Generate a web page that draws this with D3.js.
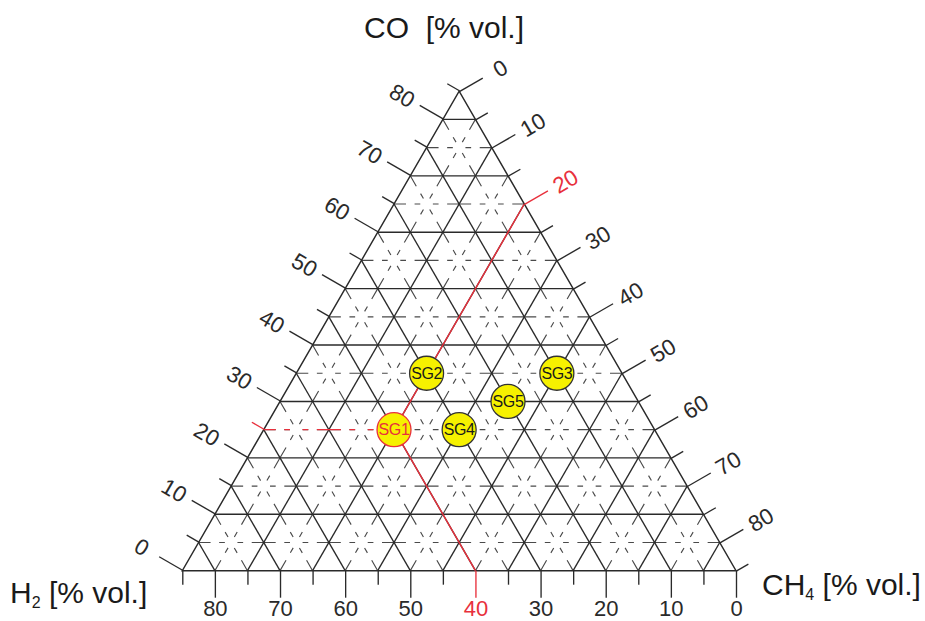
<!DOCTYPE html>
<html>
<head>
<meta charset="utf-8">
<script src="https://cdn.jsdelivr.net/npm/d3@7"></script>
<style>
  html, body { margin: 0; padding: 0; background: #fff; }
  svg { display: block; font-family: Arial, "Liberation Sans", Helvetica, sans-serif; }
</style>
</head>
<body>
<svg id="chart" width="925" height="621"></svg>
<script>
// Syngas composition: H2 / CO / CH4 ternary diagram, each scale 0–85 % vol.
const axisMax = 85;
const tickValues = d3.range(0, 90, 5);          // 0, 5, ... 85
const labelValues = d3.range(0, 90, 10);        // 0, 10, ... 80

const sampleNames = ["SG1", "SG2", "SG3", "SG4", "SG5"];
const sampleH2    = [40, 30, 10, 30, 20];
const sampleCO    = [25, 35, 35, 25, 30];
const sampleCH4   = [20, 20, 40, 30, 35];
const highlighted = "SG1";

// ---- layout -------------------------------------------------------------
const svg = d3.select("#chart");
const side = 553.7;
const origin = [182.3, 570.7];               // H2 corner (bottom-left)
const red = "#e8303c";
const lineColor = "#2a2a2a";
const dashColor = "#4a4a4a";
const majorLen = 27, minorLen = 14;
const labelDist = 47;

// cartesian scales: x carries CH4 + CO/2, y carries CO
const x = d3.scaleLinear().domain([0, axisMax]).range([origin[0], origin[0] + side]);
const y = d3.scaleLinear().domain([0, axisMax]).range([origin[1], origin[1] - side * Math.sqrt(3) / 2]);
const project = (h2, co, ch4) => [x(ch4 + co / 2), y(co)];

const L = project(axisMax, 0, 0), R = project(0, 0, axisMax), T = project(0, axisMax, 0);

// dash pattern repeats every 10 % so the gaps sit where three 5 % lines meet
const unit = (x(10) - x(0));
const dashBase = [12, 8.6, 5.7, 12.6, 5.7, 8.6, 12, 0];
const dashSum = d3.sum(dashBase);
const dashArray = dashBase.map(d => (d * unit / dashSum).toFixed(2)).join(",");

// ---- grid -----------------------------------------------------------------
const gridValues = d3.range(5, axisMax, 5);
const gridLines = [];
gridValues.forEach(v => {
  const major = v % 10 === 0;
  gridLines.push({ major, a: project(axisMax - v, v, 0), b: project(0, v, axisMax - v) }); // CO = v
  gridLines.push({ major, a: project(v, axisMax - v, 0), b: project(v, 0, axisMax - v) }); // H2 = v
  gridLines.push({ major, a: project(0, axisMax - v, v), b: project(axisMax - v, 0, v) }); // CH4 = v
});

const grid = svg.append("g");
grid.selectAll("line.minor")
  .data(gridLines.filter(d => !d.major))
  .join("line")
  .attr("class", "minor")
  .attr("x1", d => d.a[0]).attr("y1", d => d.a[1])
  .attr("x2", d => d.b[0]).attr("y2", d => d.b[1])
  .attr("stroke", dashColor)
  .attr("stroke-width", 1.15)
  .attr("stroke-dasharray", dashArray);

grid.selectAll("line.major")
  .data(gridLines.filter(d => d.major))
  .join("line")
  .attr("class", "major")
  .attr("x1", d => d.a[0]).attr("y1", d => d.a[1])
  .attr("x2", d => d.b[0]).attr("y2", d => d.b[1])
  .attr("stroke", lineColor)
  .attr("stroke-width", 1.35);

svg.append("path")
  .attr("d", d3.line()([L, R, T]) + "Z")
  .attr("fill", "none")
  .attr("stroke", lineColor)
  .attr("stroke-width", 1.45);

// ---- axes -----------------------------------------------------------------
const ref = {
  H2: sampleH2[sampleNames.indexOf(highlighted)],
  CO: sampleCO[sampleNames.indexOf(highlighted)],
  CH4: sampleCH4[sampleNames.indexOf(highlighted)]
};

const edgeScale = d3.scaleLinear().domain([0, axisMax]).range([0, side]);
const h2Scale = d3.scaleLinear().domain([axisMax, 0]).range([0, side]);
const fmt = d => labelValues.includes(d) ? d : "";

function finishAxis(g, sign, highlight) {
  g.attr("font-family", null).attr("font-size", 22.5).attr("color", lineColor);
  g.select(".domain").remove();
  g.selectAll(".tick line")
    .attr("y2", d => sign * (d % 10 === 0 ? majorLen : minorLen))
    .attr("stroke-width", 1.35);
  g.selectAll(".tick").filter(d => d === highlight).attr("color", red);
}

// bottom: H2
svg.append("g")
  .attr("transform", `translate(${L[0]},${L[1]})`)
  .call(d3.axisBottom(h2Scale).tickValues(tickValues).tickSize(majorLen).tickFormat(fmt))
  .call(g => finishAxis(g, 1, ref.H2))
  .call(g => g.selectAll(".tick text").attr("dy", null).attr("y", 45.5).attr("font-size", 22));

// left: CO
svg.append("g")
  .attr("transform", `translate(${L[0]},${L[1]}) rotate(-60)`)
  .call(d3.axisTop(edgeScale).tickValues(tickValues).tickSize(majorLen).tickFormat(fmt))
  .call(g => finishAxis(g, -1, ref.CO))
  .call(g => g.selectAll(".tick text")
    .attr("y", null).attr("dy", "0.36em")
    .attr("text-anchor", "middle")
    .attr("fill", lineColor)
    .attr("transform", `translate(0,${-labelDist}) rotate(90)`));

// right: CH4
svg.append("g")
  .attr("transform", `translate(${T[0]},${T[1]}) rotate(60)`)
  .call(d3.axisTop(edgeScale).tickValues(tickValues).tickSize(majorLen).tickFormat(fmt))
  .call(g => finishAxis(g, -1, ref.CH4))
  .call(g => g.selectAll(".tick text")
    .attr("y", null).attr("dy", "0.36em")
    .attr("text-anchor", "middle")
    .attr("transform", `translate(0,${-labelDist}) rotate(-90)`));

// ---- reading lines for the highlighted sample -------------------------------
const P = project(ref.H2, ref.CO, ref.CH4);
const coStart = project(axisMax - ref.CO, ref.CO, 0);
const h2End = project(ref.H2, 0, axisMax - ref.H2);
const ch4End = project(0, axisMax - ref.CH4, ref.CH4);
svg.append("line")
  .attr("x1", coStart[0]).attr("y1", coStart[1])
  .attr("x2", P[0]).attr("y2", P[1])
  .attr("stroke", red).attr("stroke-width", 1.35)
  .attr("stroke-dasharray", dashArray);
svg.append("line")
  .attr("x1", P[0]).attr("y1", P[1])
  .attr("x2", h2End[0]).attr("y2", h2End[1])
  .attr("stroke", red).attr("stroke-width", 1.4);
svg.append("line")
  .attr("x1", P[0]).attr("y1", P[1])
  .attr("x2", ch4End[0]).attr("y2", ch4End[1])
  .attr("stroke", red).attr("stroke-width", 1.4);

// ---- samples ----------------------------------------------------------------
const samples = sampleNames.map((name, i) => ({
  name, h2: sampleH2[i], co: sampleCO[i], ch4: sampleCH4[i]
}));

const pts = svg.append("g").selectAll("g")
  .data(samples)
  .join("g")
  .attr("transform", d => `translate(${project(d.h2, d.co, d.ch4)})`);

pts.append("circle")
  .attr("r", 17)
  .attr("fill", "#f6f100")
  .attr("stroke", d => d.name === highlighted ? red : "#333")
  .attr("stroke-width", 1.3);

pts.append("text")
  .attr("text-anchor", "middle")
  .attr("dy", "0.36em")
  .attr("font-size", 16)
  .attr("letter-spacing", -0.4)
  .attr("fill", d => d.name === highlighted ? red : "#1a1a1a")
  .text(d => d.name);

// ---- component titles ---------------------------------------------------------
const titles = svg.append("g").attr("font-size", 30).attr("fill", "#1a1a1a");
titles.append("text")
  .attr("x", 444).attr("y", 38)
  .attr("text-anchor", "middle")
  .text("CO\u00a0\u00a0[% vol.]");

const h2Title = titles.append("text").attr("x", 10).attr("y", 603);
h2Title.append("tspan").text("H");
h2Title.append("tspan").attr("font-size", 16).attr("dy", 5).text("2");
h2Title.append("tspan").attr("dy", -5).text(" [% vol.]");

const ch4Title = titles.append("text").attr("x", 762).attr("y", 595);
ch4Title.append("tspan").text("CH");
ch4Title.append("tspan").attr("font-size", 16).attr("dy", 5).text("4");
ch4Title.append("tspan").attr("dy", -5).text(" [% vol.]");
</script>
</body>
</html>
